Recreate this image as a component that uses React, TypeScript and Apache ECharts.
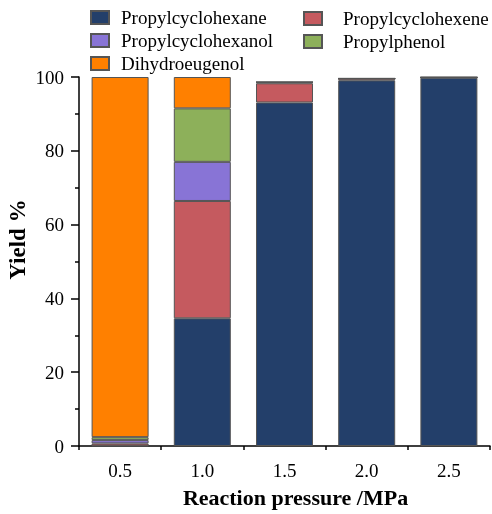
import React, { useEffect, useRef } from "react";
import * as echarts from "echarts";

const categories = ["0.5", "1.0", "1.5", "2.0", "2.5"];
const seriesNames = [
  "Propylcyclohexane",
  "Propylcyclohexene",
  "Propylcyclohexanol",
  "Propylphenol",
  "Dihydroeugenol",
];
const propylcyclohexane = [0.1, 34.6, 93.1, 99.1, 99.8];
const propylcyclohexene = [0.6, 31.8, 5.2, 0.5, 0.1];
const propylcyclohexanol = [0.9, 10.6, 0.3, 0, 0];
const propylphenol = [0.8, 14.5, 0, 0, 0];
const dihydroeugenol = [97.6, 8.5, 0, 0, 0];
const yTicks = [0, 20, 40, 60, 80, 100];

const colors = ["#233F6A", "#C55A5F", "#8874D6", "#8DB05A", "#FF8000"];
const FONT = "Liberation Serif";

export default function App() {
  const ref = useRef<HTMLDivElement>(null);
  useEffect(() => {
    if (!ref.current) return;
    const chart = echarts.init(ref.current, undefined, { renderer: "svg" });
    const values = [
      propylcyclohexane,
      propylcyclohexene,
      propylcyclohexanol,
      propylphenol,
      dihydroeugenol,
    ];
    const legendPos = [
      { left: 90, top: 8 },
      { left: 303, top: 9 },
      { left: 90, top: 31 },
      { left: 303, top: 32 },
      { left: 90, top: 54 },
    ];
    const legends = seriesNames.map((n, i) => ({
      data: [n],
      left: legendPos[i].left,
      top: legendPos[i].top,
      padding: 0,
      itemWidth: 18,
      itemHeight: 13,
      icon: "rect",
      textStyle: {
        fontFamily: FONT,
        fontSize: 19,
        color: "#000",
        padding: [0, 0, 0, i % 2 === 1 && i < 4 ? 16 : 7],
      },
    }));
    chart.setOption({
      animation: false,
      color: colors,
      textStyle: { fontFamily: FONT, color: "#000" },
      legend: legends,
      grid: {
        left: 79,
        right: 2,
        top: 77,
        bottom: 68,
        containLabel: false,
        outerBoundsMode: "none",
      },
      xAxis: [
        {
          type: "category",
          data: categories,
          boundaryGap: true,
          axisLine: { lineStyle: { color: "#000", width: 1.5 } },
          axisTick: { alignWithLabel: true, length: 8, lineStyle: { color: "#000", width: 1.5 } },
          axisLabel: { fontFamily: FONT, fontSize: 19, color: "#000", margin: 15 },
          name: "Reaction pressure /MPa",
          nameLocation: "middle",
          nameGap: 40,
          nameTextStyle: {
            fontFamily: FONT,
            fontSize: 22,
            fontWeight: "bold",
            color: "#000",
            padding: [0, 0, 0, 22],
          },
        },
        {
          type: "category",
          data: categories,
          position: "bottom",
          boundaryGap: true,
          axisLine: { show: false },
          axisTick: { show: true, length: 4, lineStyle: { color: "#000", width: 1.5 } },
          axisLabel: { show: false },
        },
      ],
      yAxis: {
        type: "value",
        min: 0,
        max: 100,
        interval: 20,
        axisLine: { show: true, lineStyle: { color: "#000", width: 1.5 } },
        axisTick: { show: true, length: 8, lineStyle: { color: "#000", width: 1.5 } },
        minorTick: { show: true, splitNumber: 2, length: 4, lineStyle: { color: "#000", width: 1.5 } },
        splitLine: { show: false },
        axisLabel: {
          fontFamily: FONT,
          fontSize: 19,
          color: "#000",
          margin: 15,
          formatter: (v: number) => (yTicks.includes(v) ? String(v) : ""),
        },
        name: "Yield %",
        nameLocation: "middle",
        nameGap: 50,
        nameMoveOverlap: false,
        nameTextStyle: {
          fontFamily: FONT,
          fontSize: 23,
          fontWeight: "bold",
          color: "#000",
          padding: [0, 0, 0, 44],
        },
      },
      series: seriesNames.map((n, i) => ({
        name: n,
        type: "bar",
        stack: "total",
        barWidth: 57,
        xAxisIndex: 0,
        data: values[i],
        itemStyle: { color: colors[i], borderColor: "#555", borderWidth: 1 },
      })),
    });
    return () => chart.dispose();
  }, []);
  return (
    <div
      ref={ref}
      style={{ position: "fixed", left: 0, top: 0, width: 492, height: 514 }}
    />
  );
}
